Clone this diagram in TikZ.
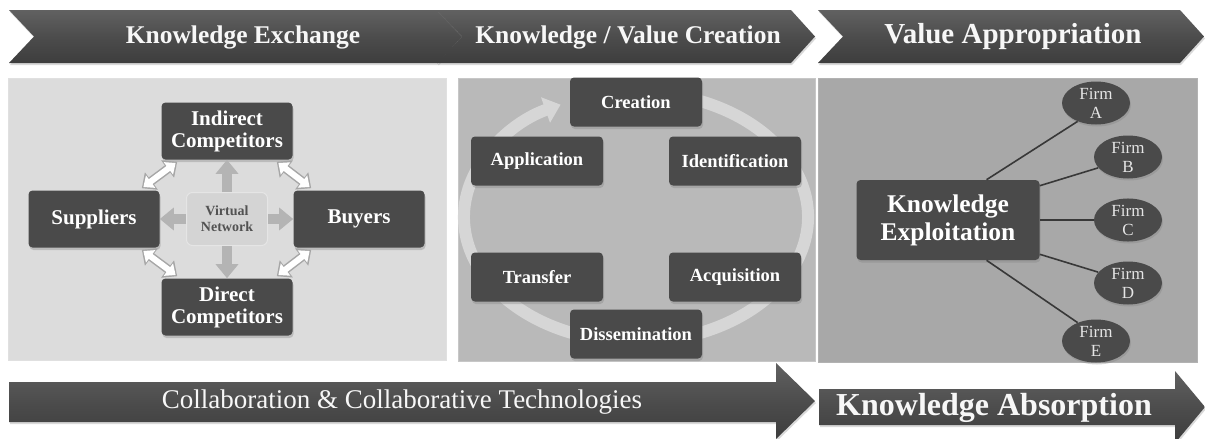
\documentclass[tikz,border=0pt]{standalone}
\usepackage{fontspec}
\setmainfont{Liberation Serif}
\usetikzlibrary{arrows.meta,shadows,shapes.geometric,calc}

\definecolor{boxgray}{HTML}{4A4A4A}
\definecolor{leftpanel}{HTML}{DCDCDC}
\definecolor{midpanel}{HTML}{B9B9B9}
\definecolor{rightpanel}{HTML}{A8A8A8}
\definecolor{ringgray}{HTML}{D6D6D6}
\definecolor{hubgray}{HTML}{B4B4B4}

\newcommand{\chevronband}[6]{
	\path[band] (#1, 10) -- (#2 - 24, 10) -- (#2, 36.5) -- (#2 - 24, 63) -- (#1, 63) -- (#1 + 25, 36.5) -- cycle;
	\node[bandtext, font=\bfseries\fontsize{#5}{#5}\selectfont] (#3) at (#4, 37) {#6};
}

\begin{document}
\begin{tikzpicture}[x=1pt,y=-1pt,>=latex,semithick,
	band/.style={top color=black!62, bottom color=black!76, middle color=black!70, drop shadow={opacity=0.3, shadow xshift=1pt, shadow yshift=-2pt}},
	bandtext/.style={text=black!3, inner sep=0pt},
	darkbox/.style={rectangle, rounded corners=4pt, fill=boxgray, text=white, align=center, drop shadow={opacity=0.35, shadow xshift=1pt, shadow yshift=-2.5pt}},
	exbox/.style={darkbox, minimum width=131pt, minimum height=57pt, font=\bfseries\fontsize{21}{22}\selectfont},
	cybox/.style={darkbox, minimum width=132pt, minimum height=49pt, font=\bfseries\fontsize{18.5}{20}\selectfont},
	vnet/.style={rectangle, rounded corners=6pt, fill=black!17, draw=black!10, line width=1pt, text=black!68, align=center, minimum width=81pt, minimum height=53pt, font=\bfseries\fontsize{14}{16}\selectfont},
	hubarrow/.style={hubgray, line width=10pt, -{Triangle[width=22pt,length=14pt]}},
	dblarrow/.style={black!35, line width=9pt, {Triangle[width=21pt,length=12pt]}-{Triangle[width=21pt,length=12pt]}, postaction={draw=white, line width=6pt, {Triangle[width=15pt,length=9pt]}-{Triangle[width=15pt,length=9pt]}, shorten <=2pt, shorten >=2pt}},
	ring/.style={ringgray, line width=12pt, -{Triangle[width=26pt,length=16pt]}},
	firm/.style={ellipse, fill=boxgray, text=black!10, inner sep=0pt, minimum width=68pt, minimum height=43pt, align=center, font=\fontsize{17}{19}\selectfont, drop shadow={opacity=0.35, shadow xshift=1pt, shadow yshift=-2pt}},
	spoke/.style={black!78, line width=1.6pt}]
	\useasboundingbox (0,0) rectangle (1205,439);

	\chevronband{9}{462}{exch}{243}{25.5}{Knowledge Exchange}
	\chevronband{437}{815}{vcre}{628}{25.5}{Knowledge / Value Creation}
	\chevronband{818}{1204}{vapp}{1013}{29}{Value Appropriation}

	\fill[leftpanel, draw=black!12] (8,78) rectangle (446,360);
	\fill[midpanel, draw=black!22] (458,78) rectangle (815,361);
	\fill[rightpanel, draw=black!30] (818,78) rectangle (1197,362);

	\node[exbox] (ind) at (227,131) {Indirect\\Competitors};
	\node[exbox] (sup) at (94,219) {Suppliers};
	\node[exbox] (buy) at (359,219) {Buyers};
	\node[exbox] (dir) at (227,307) {Direct\\Competitors};
	\node[vnet] (vn) at (227,219) {Virtual\\Network};
	\draw[hubarrow] (vn.north) -- (ind.south);
	\draw[hubarrow] (vn.south) -- (dir.north);
	\draw[hubarrow] (vn.west) -- (sup.east);
	\draw[hubarrow] (vn.east) -- (buy.west);
	\draw[dblarrow] ($(ind.south west)+(16,2)$) -- ($(sup.north east)+(-18,-2)$);
	\draw[dblarrow] ($(ind.south east)+(-16,2)$) -- ($(buy.north west)+(18,-2)$);
	\draw[dblarrow] ($(dir.north west)+(16,-2)$) -- ($(sup.south east)+(-18,2)$);
	\draw[dblarrow] ($(dir.north east)+(-16,-2)$) -- ($(buy.south west)+(18,2)$);

	\coordinate (hub) at (636,217);
	\draw[ring] ($(hub)+(-75:172 and 125)$) arc[start angle=-75, end angle=244, x radius=172, y radius=125];
	\node[cybox] (cre) at (636,102) {Creation};
	\node[cybox] (idf) at (735,161) {Identification};
	\node[cybox] (acq) at (735,277) {Acquisition};
	\node[cybox] (dis) at (636,334) {Dissemination};
	\node[cybox] (tra) at (537,277) {Transfer};
	\node[cybox] (app) at (537,161) {Application};

	\node[darkbox, minimum width=183pt, minimum height=80pt, font=\bfseries\fontsize{25.5}{28}\selectfont] (kex) at (948,220) {Knowledge\\Exploitation};
	\node[firm] (fa) at (1096,103) {Firm\\A};
	\node[firm] (fb) at (1128,157) {Firm\\B};
	\node[firm] (fc) at (1128,220) {Firm\\C};
	\node[firm] (fd) at (1128,283) {Firm\\D};
	\node[firm] (fe) at (1096,341) {Firm\\E};
	\draw[spoke] ($(kex.north)!0.42!(kex.north east)$) -- (fa.225);
	\draw[spoke] ($(kex.north east)+(0,6)$) -- (fb.200);
	\draw[spoke] (kex.east) -- (fc.west);
	\draw[spoke] ($(kex.south east)+(0,-6)$) -- (fd.160);
	\draw[spoke] ($(kex.south)!0.42!(kex.south east)$) -- (fe.135);

	\path[band] (9,382) -- (776,382) -- (776,363) -- (815,401) -- (776,439) -- (776,422) -- (9,422) -- cycle;
	\node[bandtext, font=\fontsize{27}{27}\selectfont] (collab) at (402,402) {Collaboration \& Collaborative Technologies};
	\path[band] (819,389) -- (1175,389) -- (1175,371) -- (1205,407) -- (1175,443) -- (1175,425) -- (819,425) -- cycle;
	\node[bandtext, font=\bfseries\fontsize{32}{32}\selectfont] (absorb) at (994,408) {Knowledge Absorption};
\end{tikzpicture}
\end{document}
